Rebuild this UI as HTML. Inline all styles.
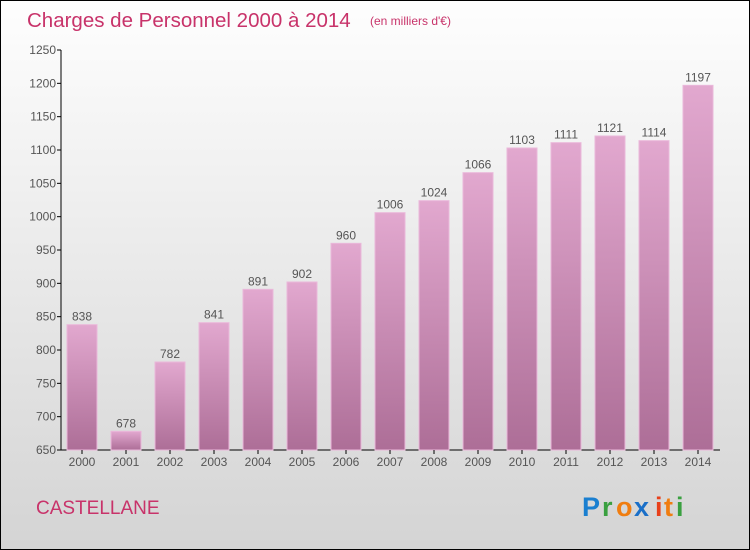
<!DOCTYPE html>
<html><head><meta charset="utf-8"><style>
body{margin:0}
#c{width:748px;height:548px;border:1px solid #000;background:linear-gradient(#fefefe,#d4d4d4);position:relative;overflow:hidden;font-family:"Liberation Sans",sans-serif}
</style></head><body>
<div id="c">
<svg width="748" height="548" viewBox="1 1 748 548" style="position:absolute;left:0;top:0">
<defs>
<linearGradient id="g" x1="0" y1="0" x2="0" y2="1"><stop offset="0" stop-color="#e2a8cf"/><stop offset="1" stop-color="#ad6e97"/></linearGradient>
</defs>
<text x="27" y="27" font-size="20.5" fill="#c8336a">Charges de Personnel 2000 à 2014</text>
<text x="370" y="25" font-size="12" fill="#c8336a">(en milliers d'€)</text>
<g id="plot"></g>
<text x="36" y="514" font-size="19" fill="#c8336a">CASTELLANE</text>
<g font-size="27" font-weight="bold">
<text x="582" y="516" fill="#1a7fd0">P</text><text x="602" y="516" fill="#3aa040">r</text><text x="616" y="516" fill="#f07d10">o</text><text x="634" y="516" fill="#1a6fc8">x</text><text x="655" y="516" fill="#e8401a">i</text><text x="664" y="516" fill="#f07d10">t</text><text x="676" y="516" fill="#3aa040">i</text>
</g>
</svg>
</div>
<script>
const years=["2000","2001","2002","2003","2004","2005","2006","2007","2008","2009","2010","2011","2012","2013","2014"];
const values=[838,678,782,841,891,902,960,1006,1024,1066,1103,1111,1121,1114,1197];
const yTicks=[650,700,750,800,850,900,950,1000,1050,1100,1150,1200,1250];
const NS="http://www.w3.org/2000/svg";
const g=document.getElementById('plot');
const y=v=>450-(v-650)*400/600;
const x=i=>82+i*44;
function mk(t,a,txt){const e=document.createElementNS(NS,t);for(const k in a)e.setAttribute(k,a[k]);if(txt!=null)e.textContent=txt;g.appendChild(e);return e;}
let ax=mk('line',{x1:61,y1:50,x2:61,y2:450,stroke:'#000'});


let bx=mk('line',{x1:61,y1:450,x2:720,y2:450,stroke:'#000'});


yTicks.forEach(t=>{
 mk('line',{x1:57,y1:y(t),x2:61,y2:y(t),stroke:'#000'});
 let l=mk('text',{x:56,y:y(t)+4,'font-size':12,fill:'#555','text-anchor':'end'},t);
 
 
});
years.forEach((yr,i)=>{
 let b=mk('rect',{x:x(i)-15,y:y(values[i]),width:30,height:450-y(values[i]),fill:'url(#g)',stroke:'#eab8da','stroke-width':1});
 
 
 let v=mk('text',{x:x(i),y:y(values[i])-4,'font-size':12,fill:'#555','text-anchor':'middle'},values[i]);
 
 
 mk('line',{x1:x(i),y1:450,x2:x(i),y2:454,stroke:'#000'});
 let l=mk('text',{x:x(i),y:466,'font-size':12,fill:'#555','text-anchor':'middle'},yr);
 
 
});
</script>
</body></html>
